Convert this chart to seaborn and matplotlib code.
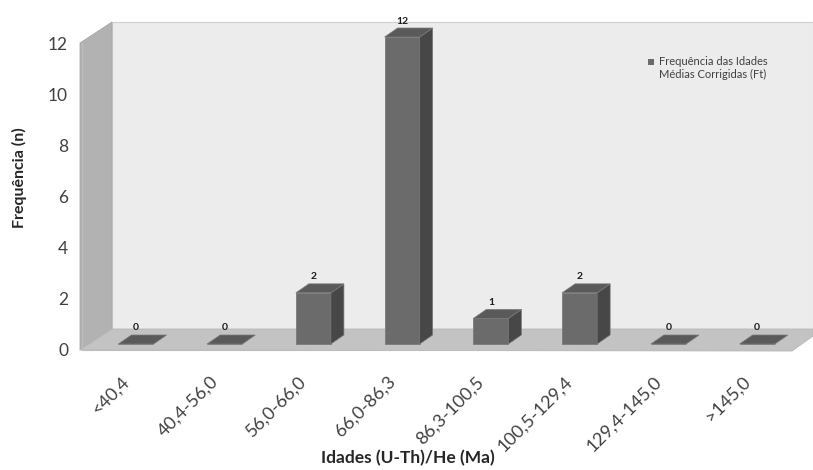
import numpy as np
import pandas as pd
import matplotlib
matplotlib.use("Agg")
import matplotlib.pyplot as plt
import seaborn as sns
from matplotlib.patches import Polygon, Rectangle
from matplotlib.transforms import IdentityTransform, ScaledTranslation

# ---------------- data ----------------
categories = ["<40,4", "40,4-56,0", "56,0-66,0", "66,0-86,3",
              "86,3-100,5", "100,5-129,4", "129,4-145,0", ">145,0"]
frequencies = [0, 0, 2, 12, 1, 2, 0, 0]
y_ticks = [0, 2, 4, 6, 8, 10, 12]
series_name = "Frequência das Idades\nMédias Corrigidas (Ft)"
x_title = "Idades (U-Th)/He (Ma)"
y_title = "Frequência (n)"

# ---------------- style ----------------
sns.set_style("white")
plt.rcParams["font.family"] = ["Lato", "DejaVu Sans"]

W, H = 813, 470
fig = plt.figure(figsize=(W / 100, H / 100), dpi=100)
fig.patch.set_facecolor("white")

AX_L, AX_R, AX_T, AX_B = 82, 792, 43, 350
ax = fig.add_axes([AX_L / W, 1 - AX_B / H, (AX_R - AX_L) / W, (AX_B - AX_T) / H])
ax.patch.set_visible(False)

ident = IdentityTransform()


def P(x, y):
    """image pixel coords (y down) -> display coords (y up)"""
    return (x, H - y)


# 3-D walls (decoration)
DX, DY = 30, 21
back = Polygon([P(AX_L + DX, AX_T - DY), P(W, AX_T - DY), P(W, AX_B - DY), P(AX_L + DX, AX_B - DY)],
               closed=True, transform=ident, facecolor="#ececec", edgecolor="#d0d0d0", lw=0.8, zorder=-3)
left = Polygon([P(AX_L - 2, AX_T), P(AX_L + DX, AX_T - DY), P(AX_L + DX, AX_B - DY), P(AX_L - 2, AX_B)],
               closed=True, transform=ident, facecolor="#b2b2b2", edgecolor="#a8a8a8", lw=0.6, zorder=-2)
floor = Polygon([P(AX_L - 2, AX_B), P(AX_L + DX, AX_B - DY), P(W, AX_B - DY), P(W, AX_B - 14),
                 P(AX_R, AX_B + 1)],
                closed=True, transform=ident, facecolor="#c3c3c3", edgecolor="#b8b8b8", lw=0.6, zorder=-2)
for p in (back, left, floor):
    fig.patches.append(p)

# ---------------- bars ----------------
df = pd.DataFrame({"cat": categories, "n": frequencies})
FRONT = "#6b6b6b"
SIDE = "#474747"
TOP = "#5a5a5a"
EDGE = "#7a7a7a"
sns.barplot(data=df, x="cat", y="n", order=categories, color=FRONT, saturation=1,
            width=0.395, ax=ax, edgecolor=EDGE, linewidth=0.6)

ax.set_xlim(-0.5, len(categories) - 0.5)
ax.set_ylim(0, 12)

OFFX, OFFY = 9.5, 6      # bar front plane offset (px)
SDX, SDY = 13, 9         # bar depth (px)
shift = ScaledTranslation(OFFX / 100, OFFY / 100, fig.dpi_scale_trans)

for patch in list(ax.patches):
    patch.set_transform(ax.transData + shift)
    patch.set_clip_on(False)
    patch.set_zorder(3)
    x0, w, h = patch.get_x(), patch.get_width(), patch.get_height()
    (dx0, dy0) = ax.transData.transform((x0, 0))
    (dx1, dy1) = ax.transData.transform((x0 + w, h))
    fx0, fx1 = dx0 + OFFX, dx1 + OFFX
    fb, ft = dy0 + OFFY, dy1 + OFFY
    side = Polygon([(fx1, fb), (fx1 + SDX, fb + SDY), (fx1 + SDX, ft + SDY), (fx1, ft)],
                   closed=True, transform=ident, facecolor=SIDE, edgecolor=EDGE, lw=0.5, zorder=3)
    top = Polygon([(fx0, ft), (fx1, ft), (fx1 + SDX, ft + SDY), (fx0 + SDX, ft + SDY)],
                  closed=True, transform=ident, facecolor=TOP, edgecolor=EDGE, lw=0.5, zorder=3)
    ax.add_artist(side)
    ax.add_artist(top)
    side.set_clip_on(False)
    top.set_clip_on(False)

# value labels
for i, v in enumerate(frequencies):
    ax.annotate(str(v), xy=(i, v), xytext=(OFFX * 0.72, 22 * 0.72), textcoords="offset points",
                ha="center", va="center", fontsize=7.5, fontweight="bold", color="#1a1a1a",
                annotation_clip=False)

# ---------------- axes ----------------
for s in ("top", "right"):
    ax.spines[s].set_visible(False)
ax.spines["left"].set_color("#bdbdbd")
ax.spines["bottom"].set_color("#bdbdbd")
ax.spines["left"].set_linewidth(0.8)
ax.spines["bottom"].set_linewidth(0.8)

ax.set_yticks(y_ticks)
ax.set_yticklabels([str(t) for t in y_ticks])
ax.tick_params(axis="y", length=6, width=0.8, color="#bdbdbd", labelsize=12.5, labelcolor="#404040", pad=4)

ax.set_xticks(range(len(categories)))
ax.set_xticks(np.arange(-0.5, len(categories), 1.0), minor=True)
ax.set_xticklabels(categories, rotation=45, ha="right", va="center", rotation_mode="anchor")
ax.tick_params(axis="x", which="major", length=0, labelsize=13, labelcolor="#404040", pad=21)
ax.tick_params(axis="x", which="minor", length=7, width=0.8, color="#bdbdbd")

ax.set_xlabel("")
ax.set_ylabel("")
fig.text(408 / W, 1 - 458 / H, x_title, ha="center", va="center", fontsize=12.5, fontweight="bold", color="#262626")
fig.text(19 / W, 1 - 178 / H, y_title, ha="center", va="center", rotation=90, fontsize=11.5,
         fontweight="bold", color="#262626")

# legend
fig.patches.append(Rectangle(P(648, 65), 6, 6, transform=ident, facecolor=FRONT, edgecolor="none", zorder=5))
fig.text(659 / W, 1 - 56 / H, series_name, ha="left", va="top", fontsize=8, color="#404040",
         linespacing=1.25)

fig.savefig("out.png", dpi=100)
